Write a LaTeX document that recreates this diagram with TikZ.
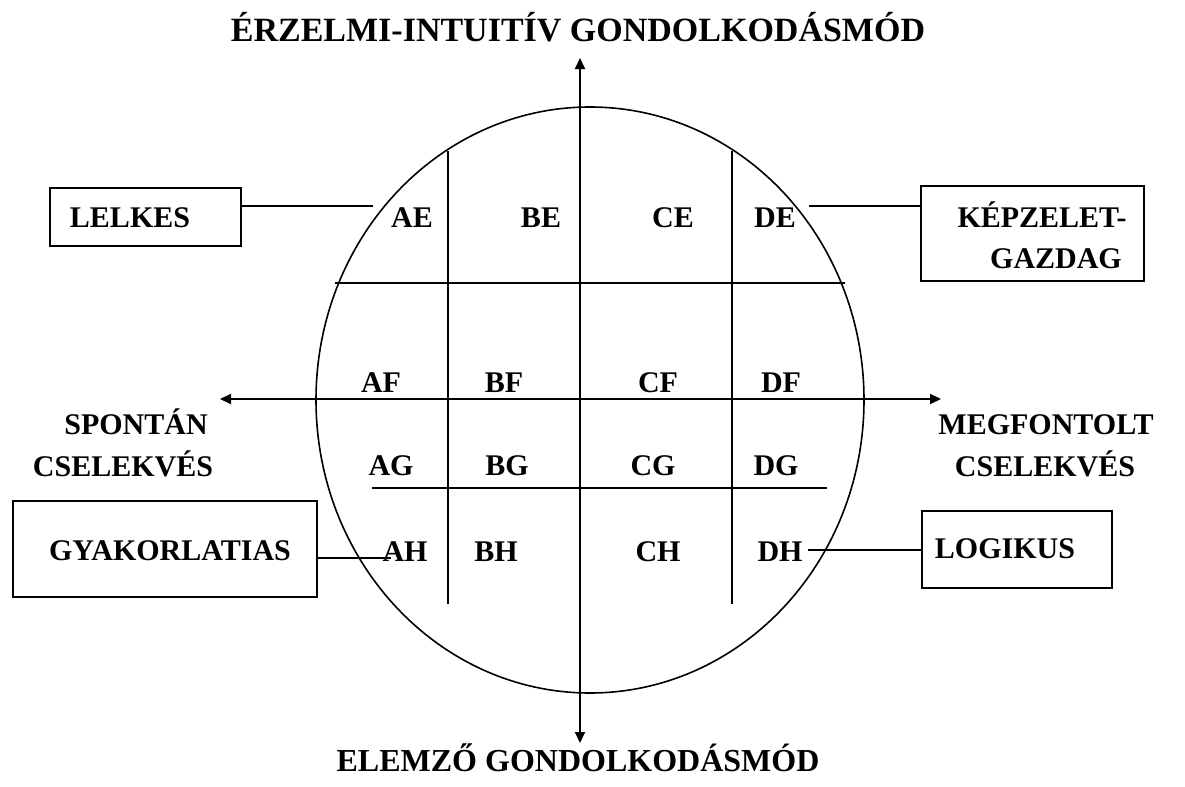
\documentclass[tikz,border=0pt]{standalone}
\usepackage{fontspec}
\setmainfont{Liberation Serif}
\usetikzlibrary{arrows.meta}
\begin{document}
\begin{tikzpicture}[x=0.5pt,y=-0.5pt,
  lbl/.style={font=\bfseries\fontsize{15}{18}\selectfont, inner sep=0pt, anchor=base},
  box/.style={draw, line width=1pt, inner sep=0pt, anchor=north west},
  grid/.style={line width=1pt},
  link/.style={line width=1pt},
  axis/.style={line width=1pt, -{Triangle[length=5.5pt,width=5pt]}}]
\useasboundingbox (0,0) rectangle (1185,787);
% circle
\draw[line width=0.8pt] (590,400) ellipse [x radius=274, y radius=293];
% axes
\coordinate (c) at (580,399);
\coordinate (top) at (580,58);
\coordinate (bot) at (580,743);
\coordinate (lft) at (220,399);
\coordinate (rgt) at (941,399);
\draw[axis] (c) -- (top);
\draw[axis] (c) -- (bot);
\draw[axis] (c) -- (lft);
\draw[axis] (c) -- (rgt);
% inner grid lines
\coordinate (v1t) at (448,151); \coordinate (v1b) at (448,604);
\coordinate (v2t) at (732,151); \coordinate (v2b) at (732,604);
\coordinate (h1l) at (335,283); \coordinate (h1r) at (845,283);
\coordinate (h2l) at (372,488); \coordinate (h2r) at (827,488);
\draw[grid] (v1t) -- (v1b);
\draw[grid] (v2t) -- (v2b);
\draw[grid] (h1l) -- (h1r);
\draw[grid] (h2l) -- (h2r);
% cell labels (baseline positions)
\node[lbl] (AE) at (412,227) {AE};
\node[lbl] (BE) at (541,227) {BE};
\node[lbl] (CE) at (673,227) {CE};
\node[lbl] (DE) at (775,227) {DE};
\node[lbl] (AF) at (381,392) {AF};
\node[lbl] (BF) at (504,392) {BF};
\node[lbl] (CF) at (658,392) {CF};
\node[lbl] (DF) at (781,392) {DF};
\node[lbl] (AG) at (391,475) {AG};
\node[lbl] (BG) at (507,475) {BG};
\node[lbl] (CG) at (653,475) {CG};
\node[lbl] (DG) at (776,475) {DG};
\node[lbl] (AH) at (405,561) {AH};
\node[lbl] (BH) at (496,561) {BH};
\node[lbl] (CH) at (658,561) {CH};
\node[lbl] (DH) at (780,561) {DH};
% titles
\node[lbl, font=\bfseries\fontsize{17}{20}\selectfont] (ttop) at (578,41) {ÉRZELMI-INTUITÍV GONDOLKODÁSMÓD};
\node[lbl, font=\bfseries\fontsize{16}{19}\selectfont] (tbot) at (578,771) {ELEMZŐ GONDOLKODÁSMÓD};
\node[lbl] (sp1) at (136,434) {SPONTÁN};
\node[lbl] (sp2) at (123,476) {CSELEKVÉS};
\node[lbl] (mg1) at (1046,434) {MEGFONTOLT};
\node[lbl] (mg2) at (1045,476) {CSELEKVÉS};
% boxes
\node[box, minimum width=191*0.5pt, minimum height=58*0.5pt] (b1) at (49,187) {};
\node[lbl] (t1) at (130,227) {LELKES};
\node[box, minimum width=223*0.5pt, minimum height=95*0.5pt] (b2) at (920,185) {};
\node[lbl] (t2a) at (1042,227) {KÉPZELET-};
\node[lbl] (t2b) at (1056,268) {GAZDAG};
\node[box, minimum width=304*0.5pt, minimum height=96*0.5pt] (b3) at (12,500) {};
\node[lbl] (t3) at (170,560) {GYAKORLATIAS};
\node[box, minimum width=190*0.5pt, minimum height=77*0.5pt] (b4) at (921,510) {};
\node[lbl] (t4) at (1005,558) {LOGIKUS};
% links
\coordinate (e1) at (373,206);
\coordinate (e2) at (809,206);
\coordinate (e3) at (391,558);
\coordinate (e4) at (808,550);
\draw[link] (b1.east |- e1) -- (e1);
\draw[link] (e2) -- (b2.west |- e2);
\draw[link] (b3.east |- e3) -- (e3);
\draw[link] (e4) -- (b4.west |- e4);
\end{tikzpicture}
\end{document}
